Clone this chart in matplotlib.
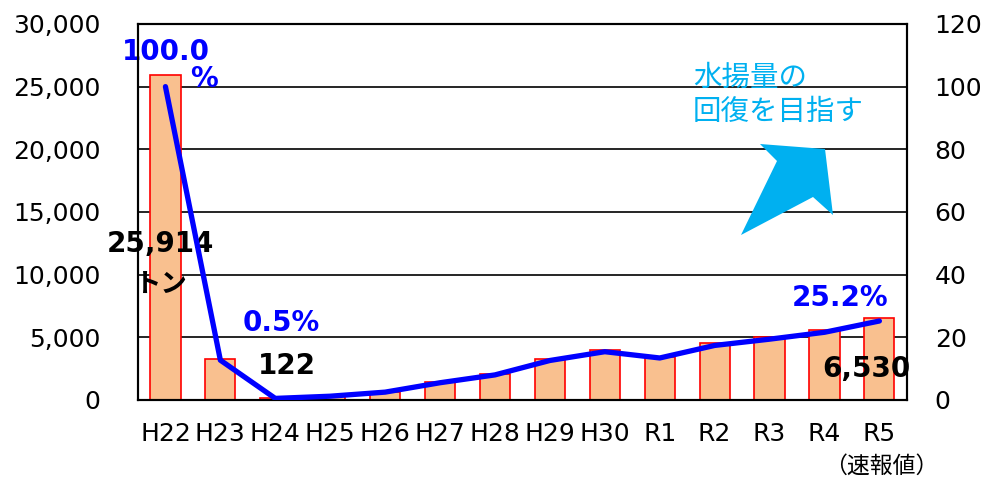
import matplotlib
matplotlib.use("Agg")
import matplotlib.pyplot as plt
from matplotlib.patches import Polygon
import numpy as np

plt.rcParams['font.family'] = ['DejaVu Sans', 'Noto Sans CJK JP']

# ── Data ─────────────────────────────────────────────
years = ["H22", "H23", "H24", "H25", "H26", "H27", "H28", "H29", "H30",
         "R1", "R2", "R3", "R4", "R5"]
catch_tons = [25914, 3300, 122, 300, 650, 1440, 2070, 3270, 3990,
              3430, 4550, 5030, 5590, 6530]
ratio_pct = [100.0, 12.7, 0.5, 1.2, 2.5, 5.5, 8.0, 12.6, 15.4,
             13.4, 17.4, 19.4, 21.6, 25.2]

BLUE = "#0000FF"
CYAN = "#00B0F0"
x = np.arange(len(years))

fig = plt.figure(figsize=(9.87, 4.79), dpi=100)
ax = fig.add_axes([0.1398, 0.165, 0.779, 0.785])
ax2 = ax.twinx()

ax.set_axisbelow(True)
ax.yaxis.grid(True, color="black", lw=1.2)
ax.bar(x, catch_tons, width=0.55, color="#F9C08F", edgecolor="red", lw=1.2, zorder=2)
ax.set_xlim(-0.5, len(years) - 0.5)
ax.set_ylim(0, 30000)
ax.set_yticks(np.arange(0, 30001, 5000))
ax.set_yticklabels([f"{v:,}" for v in range(0, 30001, 5000)])
ax.set_xticks(x)
ax.set_xticklabels(years)
ax.tick_params(axis="both", length=0, labelsize=18)
ax.tick_params(axis="y", pad=27)
ax.tick_params(axis="x", pad=16)

ax2.plot(x, ratio_pct, color=BLUE, lw=3.8, zorder=3, solid_capstyle="round")
ax2.set_ylim(0, 120)
ax2.set_yticks(np.arange(0, 121, 20))
ax2.tick_params(axis="y", length=0, labelsize=18, pad=20)

for a in (ax, ax2):
    for s in a.spines.values():
        s.set_color("black")
        s.set_linewidth(1.5)

# ── Annotations ──────────────────────────────────────
bold = dict(fontsize=20, fontweight="bold", ha="center", va="baseline")
ax.text(0.01, 27130, "100.0", color=BLUE, **bold)
ax.text(0.70, 24970, "%", color=BLUE, **bold)
ax.text(-0.10, 11810, "25,914", color="black", **bold)
ax.text(2.10, 5505, "0.5%", color=BLUE, **bold)
ax.text(2.21, 2074, "122", color="black", **bold)
ax.text(12.28, 7500, "25.2%", color=BLUE, **bold)
ax.text(12.77, 1835, "6,530", color="black", **bold)
ax.text(-0.08, 9176, "トン", color="black", family=["Noto Sans CJK JP"],
        fontsize=19, fontweight="bold", ha="center", va="center")

fig.text(0.702, 0.802, "水揚量の\n回復を目指す", color=CYAN, fontsize=20.5,
         family=["Noto Sans CJK JP"], ha="left", va="center", linespacing=1.2)
fig.text(0.893, 0.027, "（速報値）", fontsize=16.5, family=["Noto Sans CJK JP"],
         ha="center", va="center")

# big cyan arrow (pixel coords → figure fraction)
arrow_px = [(760, 144), (825, 149), (833, 215), (813, 197), (741, 235), (777, 161)]
W, H = 987, 479
arrow = Polygon([(px / W, 1 - py / H) for px, py in arrow_px], closed=True,
                transform=fig.transFigure, facecolor=CYAN, edgecolor="none", zorder=5)
fig.patches.append(arrow)

fig.savefig("out.png", dpi=100)
